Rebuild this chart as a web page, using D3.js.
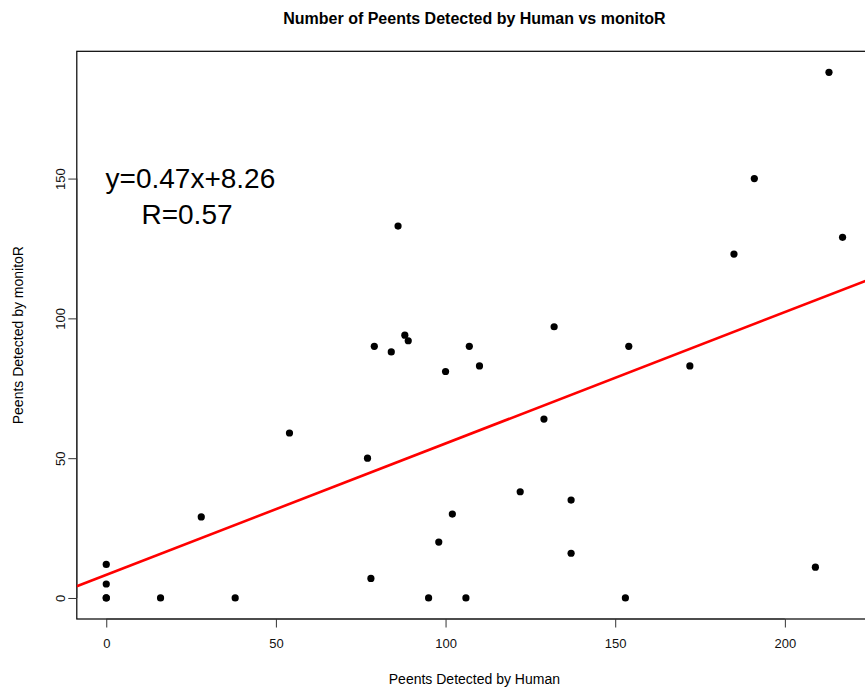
<!DOCTYPE html>
<html>
<head>
<meta charset="utf-8">
<script src="https://cdn.jsdelivr.net/npm/d3@7"></script>
<style>
  html, body { margin: 0; padding: 0; background: #fff; }
  svg { display: block; font-family: "Liberation Sans", Arial, Helvetica, sans-serif; }
</style>
</head>
<body>
<svg id="chart" width="865" height="687"></svg>
<script>
// Peents counted by a human observer vs. the monitoR detector
const humanCounts = [0, 0, 0, 0, 16, 28, 38, 54, 77, 78, 79, 84, 86, 88, 89, 95, 98, 100, 102, 106, 107, 110, 122, 129, 132, 137, 137, 153, 154, 172, 185, 191, 209, 213, 217];
const monitorCounts = [0, 5, 12, 0, 0, 29, 0, 59, 50, 7, 90, 88, 133, 94, 92, 0, 20, 81, 30, 0, 90, 83, 38, 64, 97, 35, 16, 0, 90, 83, 123, 150, 11, 188, 129];

const xTicks = [0, 50, 100, 150, 200];
const yTicks = [0, 50, 100, 150];

// Fitted line and its correlation
const slope = 0.47;
const intercept = 8.26;
const rValue = 0.57;

const titleText = "Number of Peents Detected by Human vs monitoR";
const xLabel = "Peents Detected by Human";
const yLabel = "Peents Detected by monitoR";

const svg = d3.select("#chart");

// Plot region (axes padded 4% beyond the data range)
const plot = { left: 76.8, right: 872, top: 51.3, bottom: 619 };

function padded(values) {
  const [lo, hi] = d3.extent(values);
  const p = (hi - lo) * 0.04;
  return [lo - p, hi + p];
}

const xDomain = padded(humanCounts);
const yDomain = padded(monitorCounts);

const x = d3.scaleLinear().domain(xDomain).range([plot.left, plot.right]);
const y = d3.scaleLinear().domain(yDomain).range([plot.bottom, plot.top]);

// Frame
svg.append("rect")
  .attr("x", plot.left).attr("y", plot.top)
  .attr("width", plot.right - plot.left).attr("height", plot.bottom - plot.top)
  .attr("fill", "none").attr("stroke", "#000").attr("stroke-width", 1.2);

// Bottom axis
const xAxis = svg.append("g").attr("transform", `translate(0,${plot.bottom})`)
  .call(d3.axisBottom(x).tickValues(xTicks).tickSize(8.5).tickPadding(11).tickFormat(d3.format("d")));
xAxis.select(".domain").attr("d", `M${x(xTicks[0])},0H${x(xTicks[xTicks.length - 1])}`).attr("stroke", "#333").attr("stroke-width", 1.2);
xAxis.selectAll(".tick line").attr("stroke", "#333");
xAxis.selectAll("text").attr("font-size", 13).attr("fill", "#111")
  .attr("font-family", "Liberation Sans, Arial, sans-serif");

// Left axis with rotated labels
const yAxis = svg.append("g").attr("transform", `translate(${plot.left},0)`)
  .call(d3.axisLeft(y).tickValues(yTicks).tickSize(8.5).tickFormat(d3.format("d")));
yAxis.select(".domain").attr("d", `M0,${y(yTicks[0])}V${y(yTicks[yTicks.length - 1])}`).attr("stroke", "#333").attr("stroke-width", 1.2);
yAxis.selectAll(".tick line").attr("stroke", "#333");
yAxis.selectAll(".tick text")
  .attr("x", null).attr("dy", null)
  .attr("transform", "translate(-16,0) rotate(-90)")
  .attr("text-anchor", "middle")
  .attr("dy", "0.35em")
  .attr("font-size", 13).attr("fill", "#111")
  .attr("font-family", "Liberation Sans, Arial, sans-serif");

// Clip marks to the plot region
svg.append("clipPath").attr("id", "plot-clip")
  .append("rect")
  .attr("x", plot.left).attr("y", plot.top)
  .attr("width", plot.right - plot.left).attr("height", plot.bottom - plot.top);

// Regression line across the full plot width
svg.append("line")
  .attr("clip-path", "url(#plot-clip)")
  .attr("x1", x(xDomain[0])).attr("y1", y(intercept + slope * xDomain[0]))
  .attr("x2", x(xDomain[1])).attr("y2", y(intercept + slope * xDomain[1]))
  .attr("stroke", "#ff0000").attr("stroke-width", 2.6);

// Points
svg.append("g").selectAll("circle")
  .data(humanCounts.map((h, i) => ({ h, m: monitorCounts[i] })))
  .join("circle")
  .attr("cx", d => x(d.h))
  .attr("cy", d => y(d.m))
  .attr("r", 3.6)
  .attr("fill", "#000");

// Equation annotation
svg.append("text")
  .attr("x", x(24.8)).attr("y", y(150)).attr("dy", "0.35em")
  .attr("text-anchor", "middle").attr("font-size", 28).attr("fill", "#000")
  .text(`y=${slope}x+${intercept}`);
svg.append("text")
  .attr("x", x(23.8)).attr("y", y(137.3)).attr("dy", "0.35em")
  .attr("text-anchor", "middle").attr("font-size", 28).attr("fill", "#000")
  .text(`R=${rValue}`);

// Titles
const cx = (plot.left + plot.right) / 2;
svg.append("text")
  .attr("x", cx).attr("y", 23.5)
  .attr("text-anchor", "middle").attr("font-size", 16).attr("font-weight", "bold")
  .text(titleText);
svg.append("text")
  .attr("x", cx).attr("y", 683.5)
  .attr("text-anchor", "middle").attr("font-size", 14)
  .text(xLabel);
svg.append("text")
  .attr("transform", `translate(23,${(plot.top + plot.bottom) / 2}) rotate(-90)`)
  .attr("text-anchor", "middle").attr("font-size", 14)
  .text(yLabel);
</script>
</body>
</html>
